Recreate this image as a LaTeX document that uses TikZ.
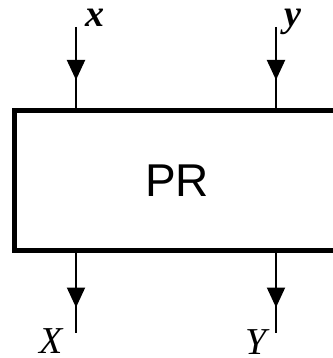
\documentclass[tikz,border=0pt]{standalone}
\usepackage{fontspec}
\setmainfont{Liberation Serif}
\newfontfamily\prfont{Liberation Sans}
\usetikzlibrary{arrows.meta,decorations.markings}
\begin{document}
\begin{tikzpicture}[x=1pt,y=-1pt,
  boxstyle/.style={draw,line width=5pt,minimum width=325.5pt,minimum height=139pt,inner sep=0pt,font=\prfont\fontsize{46}{50}\selectfont},
  sigline/.style={line width=2pt},
  inarrow/.style={sigline,postaction={decorate},decoration={markings,mark=at position 53pt with {\arrow{Triangle[length=20pt,width=18pt]}}}},
  outarrow/.style={sigline,postaction={decorate},decoration={markings,mark=at position 55pt with {\arrow{Triangle[length=20pt,width=18pt]}}}},
  lbl/.style={inner sep=0pt,font=\fontsize{38}{40}\selectfont}
]
\useasboundingbox (0,0) rectangle (332,358);
\node[boxstyle] (box) at (177.25,180.5) {PR};
\coordinate (xin) at (76,27);
\coordinate (yin) at (276,27);
\coordinate (xout) at (76,333);
\coordinate (yout) at (276,333);
\draw[inarrow] (xin) -- (xin |- box.north);
\draw[inarrow] (yin) -- (yin |- box.north);
\draw[outarrow] (xout |- box.south) -- (xout);
\draw[outarrow] (yout |- box.south) -- (yout);
\node[lbl] (lx) at (95,18) {\textbf{\textit{x}}};
\node[lbl] (ly) at (293,22) {\textbf{\textit{y}}};
\node[lbl] (lX) at (52,341) {\textit{X}};
\node[lbl] (lY) at (258,342) {\textit{Y}};
\end{tikzpicture}
\end{document}
